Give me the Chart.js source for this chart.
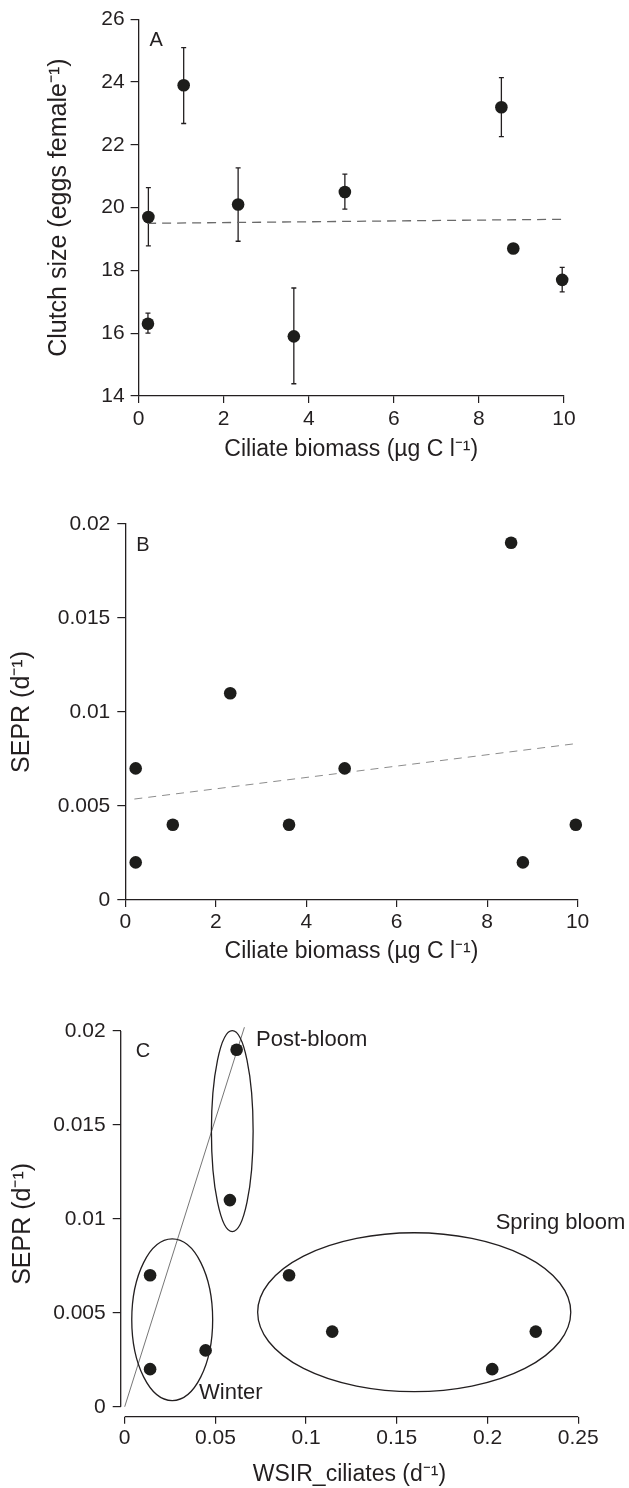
<!DOCTYPE html>
<html lang="en">
<head>
<meta charset="UTF-8">
<title>Clutch size and SEPR vs ciliates</title>
<script src="https://cdn.jsdelivr.net/npm/chart.js"></script>
<style>
  body { margin: 0; background: #fff; }
  #wrap { position: relative; width: 629px; height: 1488px; }
  canvas { position: absolute; left: 0; }
</style>
</head>
<body>
<div id="wrap">
  <canvas id="chartA" width="629" height="470" style="top:0"></canvas>
  <canvas id="chartB" width="629" height="490" style="top:480px"></canvas>
  <canvas id="chartC" width="629" height="508" style="top:980px"></canvas>
</div>
<script>
// ---- values ----
// A: clutch size vs ciliate biomass (mean with error bar ends)
const biomassA  = [0.22, 0.23, 1.06, 2.34, 3.65, 4.85, 8.53, 8.81, 9.96];
const clutch    = [16.3, 19.7, 23.9, 20.1, 15.9, 20.5, 23.2, 18.7, 17.7];
const clutchLow = [16.0, 18.78, 22.68, 18.93, 14.39, 19.95, 22.26, 18.7, 17.32];
const clutchHi  = [16.64, 20.64, 25.1, 21.27, 17.44, 21.07, 24.14, 18.7, 18.1];
const fitAx = [0.2, 10];
const fitAy = [19.5, 19.63];

// B: SEPR vs ciliate biomass
const biomassB = [0.23, 0.23, 1.05, 2.32, 3.62, 4.85, 8.53, 8.79, 9.96];
const seprB    = [0.007, 0.002, 0.004, 0.011, 0.004, 0.007, 0.019, 0.002, 0.004];
const fitBx = [0.2, 10];
const fitBy = [0.00537, 0.00833];

// C: SEPR vs WSIR_ciliates
const wsir  = [0.014, 0.014, 0.0446, 0.058, 0.0617, 0.0906, 0.1144, 0.2026, 0.2266];
const seprC = [0.007, 0.002, 0.003, 0.011, 0.019, 0.007, 0.004, 0.002, 0.004];
const fitCx = [0, 0.066];
const fitCy = [0, 0.0202];

// groups circled in C: centre and half axes in data units, label anchor
const groupNames = ['Winter', 'Post-bloom', 'Spring bloom'];
const groupCx = [0.0262, 0.0593, 0.1596];
const groupCy = [0.00463, 0.01467, 0.00503];
const groupRx = [0.0223, 0.0115, 0.0863];
const groupRy = [0.0043, 0.00535, 0.00423];
const groupLabelX = [0.041, 0.0724, 0.2045];
const groupLabelY = [0.00071, 0.01953, 0.0098];

// tick labels
const ticksAx = [0, 2, 4, 6, 8, 10];
const ticksAy = [14, 16, 18, 20, 22, 24, 26];
const ticksBx = [0, 2, 4, 6, 8, 10];
const ticksBy = [0, 0.005, 0.01, 0.015, 0.02];
const ticksCx = [0, 0.05, 0.1, 0.15, 0.2, 0.25];
const ticksCy = [0, 0.005, 0.01, 0.015, 0.02];

const INK = '#231f20';
const FONT = "'Liberation Sans', Arial, Helvetica, sans-serif";

const pts = (xs, ys) => xs.map((x, i) => ({ x: x, y: ys[i] }));

function makeScale(o) {
  return {
    type: 'linear',
    min: o.min,
    max: o.max,
    afterBuildTicks: s => { s.ticks = o.ticks.map(v => ({ value: v })); },
    afterFit: s => {
      if (o.width) s.width = o.width;
      if (o.height) s.height = o.height;
    },
    grid: { display: true, drawOnChartArea: false, drawTicks: true, tickLength: o.tickLength, color: INK, lineWidth: 1.2 },
    border: { display: o.border !== false, color: INK, width: 1.3 },
    ticks: {
      color: INK, font: { family: FONT, size: 21 }, padding: o.pad,
      autoSkip: false, maxRotation: 0, callback: v => String(v)
    },
    title: { display: true, text: o.title, color: INK, font: { family: FONT, size: o.titleSize }, padding: o.titlePad }
  };
}

function scatterSet(data) {
  return {
    data: data, pointRadius: 6.3, pointHoverRadius: 6.3,
    backgroundColor: '#1d1d1b', borderWidth: 0, clip: false, order: 1
  };
}

function fitSet(data, color, width, dash) {
  return {
    type: 'line', data: data, showLine: true, pointRadius: 0,
    borderColor: color, borderWidth: width, borderDash: dash, clip: false, order: 2
  };
}

// panel letter in the top-left corner of the plot area
const panelLetter = {
  id: 'panelLetter',
  afterDatasetsDraw(chart, args, o) {
    const { ctx, chartArea } = chart;
    ctx.save();
    ctx.font = '20px ' + FONT;
    ctx.fillStyle = INK;
    ctx.textAlign = 'left';
    ctx.textBaseline = 'middle';
    ctx.fillText(o.text, chartArea.left + o.dx, chartArea.top + o.dy);
    ctx.restore();
  }
};

const errorBars = {
  id: 'errorBars',
  beforeDatasetsDraw(chart) {
    const { ctx, scales: { x, y } } = chart;
    ctx.save();
    ctx.strokeStyle = INK;
    ctx.lineWidth = 1.3;
    biomassA.forEach((b, i) => {
      if (clutchHi[i] - clutchLow[i] < 0.05) return;
      const px = x.getPixelForValue(b);
      const y1 = y.getPixelForValue(clutchLow[i]);
      const y2 = y.getPixelForValue(clutchHi[i]);
      ctx.beginPath();
      ctx.moveTo(px, y1); ctx.lineTo(px, y2);
      ctx.moveTo(px - 2.5, y1); ctx.lineTo(px + 2.5, y1);
      ctx.moveTo(px - 2.5, y2); ctx.lineTo(px + 2.5, y2);
      ctx.stroke();
    });
    ctx.restore();
  }
};

// C has axes that do not meet at the corner
const detachedAxes = {
  id: 'detachedAxes',
  beforeDatasetsDraw(chart) {
    const { ctx, chartArea, scales: { x, y } } = chart;
    ctx.save();
    ctx.strokeStyle = INK;
    ctx.lineWidth = 1.3;
    ctx.beginPath();
    ctx.moveTo(chartArea.left, y.getPixelForValue(ticksCy[0]));
    ctx.lineTo(chartArea.left, y.getPixelForValue(ticksCy[ticksCy.length - 1]));
    ctx.moveTo(x.getPixelForValue(ticksCx[0]), chartArea.bottom);
    ctx.lineTo(x.getPixelForValue(ticksCx[ticksCx.length - 1]), chartArea.bottom);
    ctx.stroke();
    ctx.restore();
  }
};

const groupRings = {
  id: 'groupRings',
  afterDatasetsDraw(chart) {
    const { ctx, scales: { x, y } } = chart;
    ctx.save();
    ctx.strokeStyle = INK;
    ctx.lineWidth = 1.3;
    ctx.fillStyle = INK;
    ctx.font = '22px ' + FONT;
    ctx.textAlign = 'left';
    ctx.textBaseline = 'middle';
    groupNames.forEach((name, i) => {
      const cx = x.getPixelForValue(groupCx[i]);
      const cy = y.getPixelForValue(groupCy[i]);
      const rx = Math.abs(x.getPixelForValue(groupCx[i] + groupRx[i]) - cx);
      const ry = Math.abs(y.getPixelForValue(groupCy[i] + groupRy[i]) - cy);
      ctx.beginPath();
      ctx.ellipse(cx, cy, rx, ry, 0, 0, Math.PI * 2);
      ctx.stroke();
      ctx.fillText(name, x.getPixelForValue(groupLabelX[i]), y.getPixelForValue(groupLabelY[i]));
    });
    ctx.restore();
  }
};

function baseOptions(pad, scales, letter) {
  return {
    responsive: false,
    devicePixelRatio: 1,
    animation: false,
    layout: { padding: pad },
    plugins: { legend: { display: false }, tooltip: { enabled: false }, panelLetter: letter },
    scales: scales
  };
}

// A
new Chart(document.getElementById('chartA'), {
  type: 'scatter',
  data: {
    datasets: [
      scatterSet(pts(biomassA, clutch)),
      fitSet(pts(fitAx, fitAy), '#6a6a6a', 1.3, [9, 6])
    ]
  },
  options: baseOptions({ top: 19.3, right: 65.1, bottom: 0, left: 0 }, {
    x: makeScale({ min: 0, max: 10, ticks: ticksAx, height: 74, tickLength: 7, pad: 4,
      title: 'Ciliate biomass (\u00B5g C l\u207B\u00B9)', titleSize: 23, titlePad: { top: 0, bottom: 7 } }),
    y: makeScale({ min: 14, max: 26, ticks: ticksAy, width: 138.6, tickLength: 8, pad: 6,
      title: 'Clutch size (eggs female\u207B\u00B9)', titleSize: 25, titlePad: { top: 44, bottom: 0 } })
  }, { text: 'A', dx: 11, dy: 21 }),
  plugins: [errorBars, panelLetter]
});

// B
new Chart(document.getElementById('chartB'), {
  type: 'scatter',
  data: {
    datasets: [
      scatterSet(pts(biomassB, seprB)),
      fitSet(pts(fitBx, fitBy), '#8c8c8c', 1, [8, 6])
    ]
  },
  options: baseOptions({ top: 44, right: 51.4, bottom: 0, left: 0 }, {
    x: makeScale({ min: 0, max: 10, ticks: ticksBx, height: 70, tickLength: 7, pad: 3,
      title: 'Ciliate biomass (\u00B5g C l\u207B\u00B9)', titleSize: 23, titlePad: { top: 0, bottom: 5 } }),
    y: makeScale({ min: 0, max: 0.02, ticks: ticksBy, width: 125.3, tickLength: 8, pad: 7,
      title: 'SEPR (d\u207B\u00B9)', titleSize: 25, titlePad: { top: 7, bottom: 0 } })
  }, { text: 'B', dx: 11, dy: 21 }),
  plugins: [panelLetter]
});

// C
new Chart(document.getElementById('chartC'), {
  type: 'scatter',
  data: {
    datasets: [
      scatterSet(pts(wsir, seprC)),
      fitSet(pts(fitCx, fitCy), '#666666', 0.9, [])
    ]
  },
  options: baseOptions({ top: 51, right: 50.8, bottom: 0, left: 0 }, {
    x: makeScale({ min: -0.0022, max: 0.25, ticks: ticksCx, height: 71.3, tickLength: 7, pad: 2, border: false,
      title: 'WSIR_ciliates (d\u207B\u00B9)', titleSize: 23, titlePad: { top: 0, bottom: 0 } }),
    y: makeScale({ min: -0.00053, max: 0.02, ticks: ticksCy, width: 120.7, tickLength: 8, pad: 7, border: false,
      title: 'SEPR (d\u207B\u00B9)', titleSize: 25, titlePad: { top: 8, bottom: 0 } })
  }, { text: 'C', dx: 15, dy: 20 }),
  plugins: [detachedAxes, groupRings, panelLetter]
});
</script>
</body>
</html>
